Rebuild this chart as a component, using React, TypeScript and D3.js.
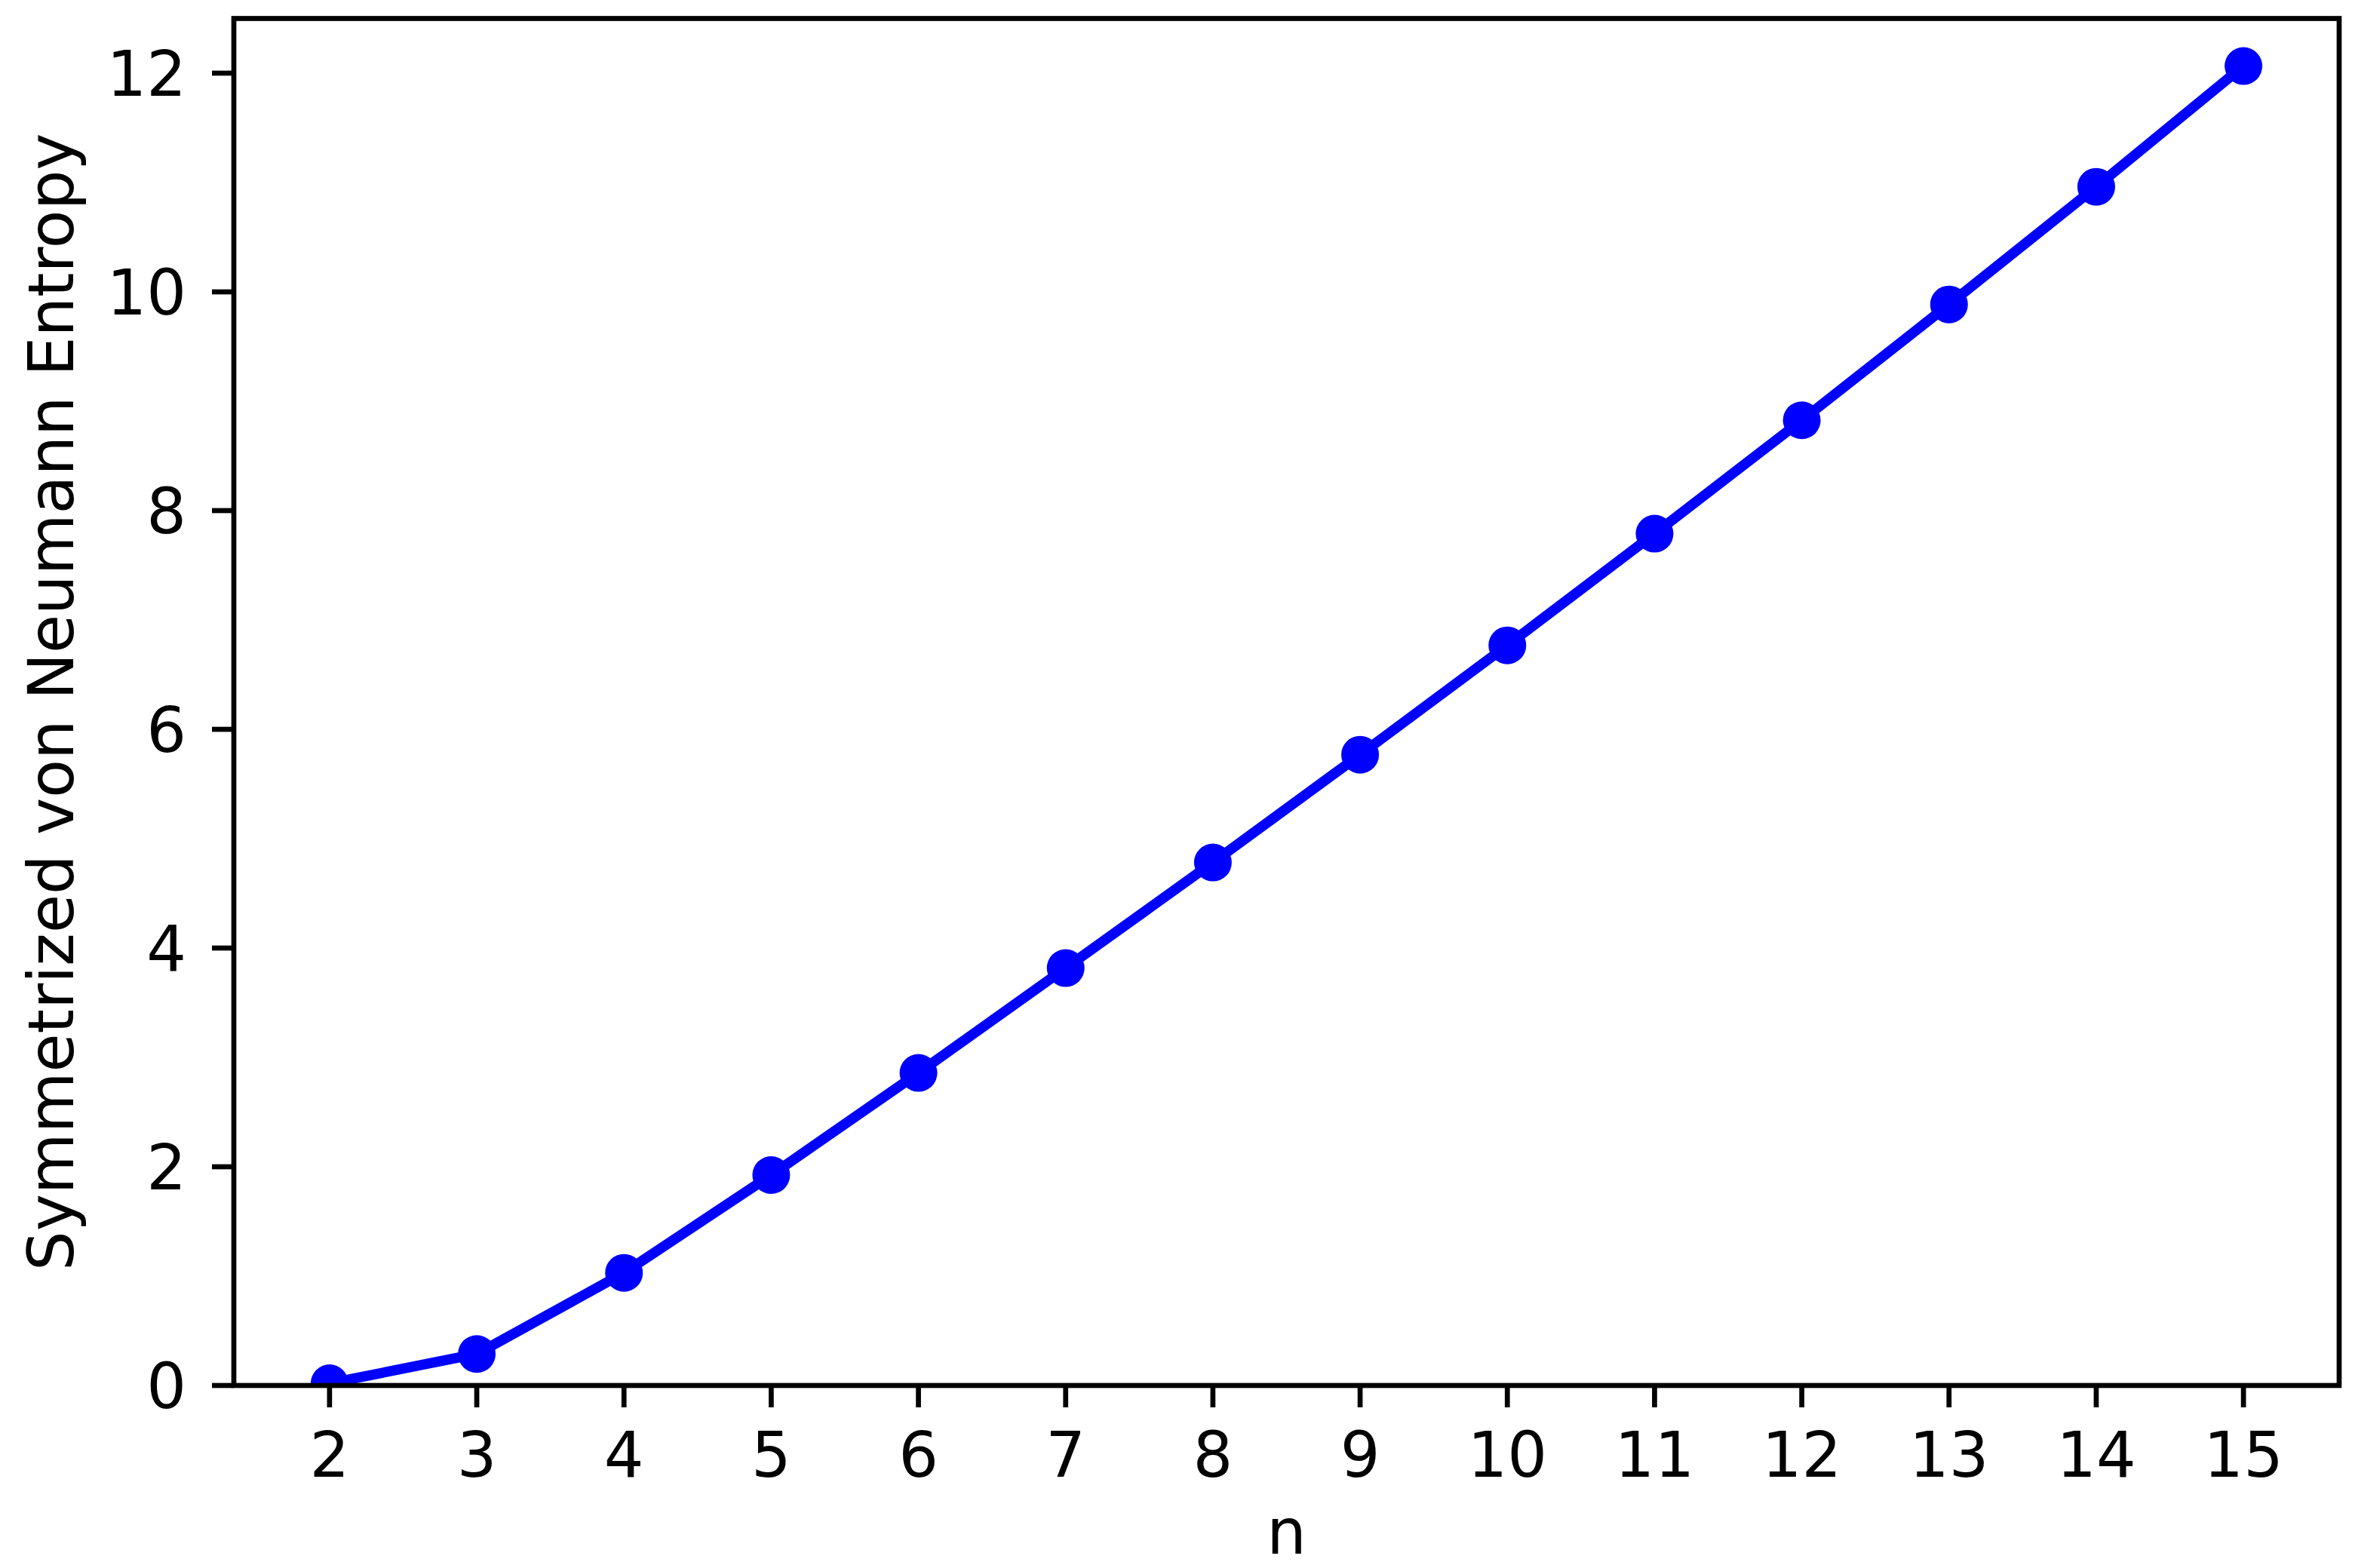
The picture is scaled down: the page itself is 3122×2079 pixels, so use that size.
import React from 'react';
import * as d3 from 'd3';

const nValues = [2, 3, 4, 5, 6, 7, 8, 9, 10, 11, 12, 13, 14, 15];
const entropyValues = [0.02, 0.288, 1.03, 1.924, 2.858, 3.817, 4.782, 5.768, 6.768, 7.789, 8.826, 9.885, 10.961, 12.065];
const yTicks = [0, 2, 4, 6, 8, 10, 12];
const xLabel = 'n';
const yLabel = 'Symmetrized von Neumann Entropy';

const width = 3122;
const height = 2079;
const margin = { left: 310, right: 21, top: 24.5, bottom: 242 };
const fontSize = 83;
const font = '"DejaVu Sans", sans-serif';

const App = () => {
  const x = d3.scaleLinear()
    .domain([1.35, 15.65])
    .range([margin.left, width - margin.right]);
  const y = d3.scaleLinear()
    .domain([0, 12.5])
    .range([height - margin.bottom, margin.top]);

  const points = nValues.map((n, i) => [n, entropyValues[i]] as [number, number]);
  const line = d3.line<[number, number]>()
    .x(d => x(d[0]))
    .y(d => y(d[1]));

  const x0 = x.range()[0];
  const x1 = x.range()[1];
  const y0 = y.range()[0];
  const y1 = y.range()[1];
  const tickLen = 29;

  return (
    <svg width={width} height={height}
      style={{ position: 'absolute', left: 0, top: 0, background: '#fff' }}
      fontFamily={font}>
      <defs>
        <clipPath id="plot-clip">
          <rect x={x0} y={y1} width={x1 - x0} height={y0 - y1} />
        </clipPath>
      </defs>
      <rect x={0} y={0} width={width} height={height} fill="#fff" />

      {/* data line + markers, clipped to axes like matplotlib */}
      <g clipPath="url(#plot-clip)">
        <path d={line(points) || ''} fill="none" stroke="#0000ff" strokeWidth={13.5}
          strokeLinejoin="round" strokeLinecap="square" />
        {points.map((d, i) => (
          <circle key={i} cx={x(d[0])} cy={y(d[1])} r={25} fill="#0000ff" />
        ))}
      </g>

      {/* x ticks */}
      {nValues.map(n => (
        <g key={n} transform={`translate(${x(n)},0)`}>
          <line y1={y0} y2={y0 + tickLen} stroke="#000" strokeWidth={6.7} />
          <text y={1958} textAnchor="middle" fontSize={fontSize} fill="#000">{n}</text>
        </g>
      ))}

      {/* y ticks */}
      {yTicks.map(t => (
        <g key={t} transform={`translate(0,${y(t)})`}>
          <line x1={x0 - tickLen} x2={x0} stroke="#000" strokeWidth={6.7} />
          <text x={x0 - tickLen - 34} y={30} textAnchor="end" fontSize={fontSize} fill="#000">{t}</text>
        </g>
      ))}

      {/* frame */}
      <rect x={x0} y={y1} width={x1 - x0} height={y0 - y1} fill="none" stroke="#000"
        strokeWidth={6.7} strokeLinejoin="miter" />

      {/* axis labels */}
      <text x={(x0 + x1) / 2} y={2060} textAnchor="middle" fontSize={fontSize} fill="#000">{xLabel}</text>
      <text transform={`translate(97,${(y0 + y1) / 2}) rotate(-90)`} textAnchor="middle"
        fontSize={fontSize} fill="#000">{yLabel}</text>
    </svg>
  );
};

export default App;
